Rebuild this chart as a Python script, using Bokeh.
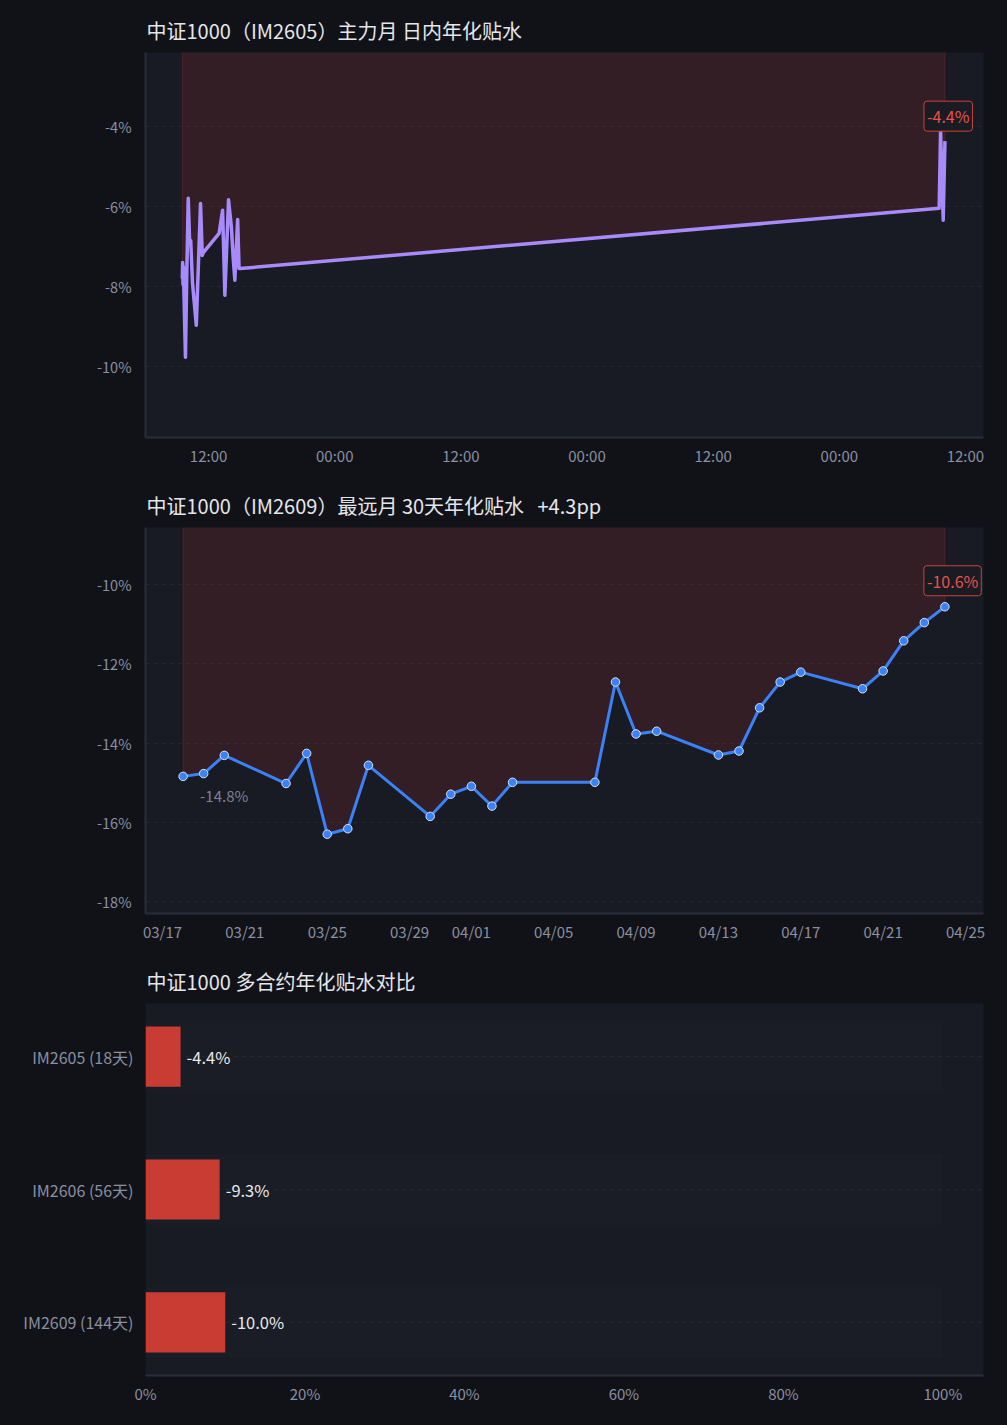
import pandas as pd
from bokeh.plotting import figure
from bokeh.layouts import column
from bokeh.models import (Range1d, FixedTicker, PrintfTickFormatter,
                          DatetimeTickFormatter, Label, ColumnDataSource)
from bokeh.core.properties import value
from bokeh.embed import file_html
from bokeh.resources import INLINE

# ---------------- data ----------------
# Chart 1: IM2605 intraday annualised discount (%)
intraday_time = [
    "2026-04-24 09:30", "2026-04-24 09:32", "2026-04-24 09:34", "2026-04-24 09:36",
    "2026-04-24 09:48", "2026-04-24 09:56", "2026-04-24 10:04", "2026-04-24 10:12",
    "2026-04-24 10:18", "2026-04-24 10:28", "2026-04-24 10:50", "2026-04-24 11:14",
    "2026-04-24 11:24", "2026-04-24 11:30", "2026-04-24 13:00", "2026-04-24 13:20",
    "2026-04-24 13:33", "2026-04-24 13:54", "2026-04-24 14:04", "2026-04-24 14:10",
    "2026-04-24 14:20", "2026-04-24 14:30", "2026-04-24 14:46", "2026-04-24 14:54",
    "2026-04-24 15:00",
    "2026-04-27 09:30", "2026-04-27 09:38", "2026-04-27 09:53", "2026-04-27 10:03",
]
intraday_value = [
    -7.80, -7.40, -7.95, -7.50,
    -9.77, -7.60, -5.79, -6.90,
    -6.85, -7.90, -8.97, -5.92,
    -7.22, -7.15, -6.67, -6.09,
    -8.22, -5.83, -6.25, -6.50,
    -7.26, -7.84, -6.32, -7.55,
    -7.55,
    -6.04, -4.12, -6.34, -4.36,
]
intraday_ticks = [
    "2026-04-24 12:00", "2026-04-25 00:00", "2026-04-25 12:00", "2026-04-26 00:00",
    "2026-04-26 12:00", "2026-04-27 00:00", "2026-04-27 12:00",
]

# Chart 2: IM2609 30-day annualised discount (%)
daily_date = [
    "2026-03-18", "2026-03-19", "2026-03-20", "2026-03-23", "2026-03-24",
    "2026-03-25", "2026-03-26", "2026-03-27", "2026-03-30", "2026-03-31",
    "2026-04-01", "2026-04-02", "2026-04-03", "2026-04-07", "2026-04-08",
    "2026-04-09", "2026-04-10", "2026-04-13", "2026-04-14", "2026-04-15",
    "2026-04-16", "2026-04-17", "2026-04-20", "2026-04-21", "2026-04-22",
    "2026-04-23", "2026-04-24",
]
daily_value = [
    -14.84, -14.77, -14.31, -15.02, -14.26,
    -16.30, -16.16, -14.56, -15.85, -15.29,
    -15.09, -15.59, -14.99, -14.99, -12.46,
    -13.77, -13.70, -14.30, -14.20, -13.11,
    -12.46, -12.21, -12.63, -12.18, -11.42,
    -10.96, -10.56,
]
daily_ticks = [
    "2026-03-17", "2026-03-21", "2026-03-25", "2026-03-29", "2026-04-01",
    "2026-04-05", "2026-04-09", "2026-04-13", "2026-04-17", "2026-04-21",
    "2026-04-25",
]

# Chart 3: contracts comparison
contracts = ["IM2605 (18天)", "IM2606 (56天)", "IM2609 (144天)"]
contract_discount = [-4.4, -9.3, -10.0]

# ---------------- style ----------------
PAGE_BG = "#111217"
PLOT_BG = "#181a24"
FONT = "Noto Sans CJK SC"
TICK_COLOR = "#8a8fa2"
AXIS_COLOR = "#2b2e3a"
RED = "#e5534b"
W = 991
NBSP = "\u00a0"


def ms(s):
    return pd.Timestamp(s).value / 1e6


def base_fig(title, height, bottom, x_axis_type="linear"):
    p = figure(width=W, height=height, title=title, x_axis_type=x_axis_type,
               toolbar_location=None, output_backend="svg",
               min_border_left=137, min_border_right=16,
               min_border_top=40, min_border_bottom=bottom)
    p.background_fill_color = PLOT_BG
    p.border_fill_color = PAGE_BG
    p.outline_line_color = None
    p.title.text_font = FONT
    p.title.text_font_size = "20px"
    p.title.text_font_style = "normal"
    p.title.text_color = "#e4e6eb"
    p.title.offset = 1
    p.title.standoff = 16
    for ax in p.axis:
        ax.axis_line_color = AXIS_COLOR
        ax.axis_line_width = 2
        ax.major_tick_line_color = None
        ax.minor_tick_line_color = None
        ax.major_tick_out = 0
        ax.major_tick_in = 0
        ax.minor_tick_out = 0
        ax.minor_tick_in = 0
        ax.major_label_text_font = FONT
        ax.major_label_text_color = TICK_COLOR
    p.xaxis.major_label_text_font_size = "15px"
    p.yaxis.major_label_text_font_size = "14.5px"
    p.xaxis.major_label_standoff = 7
    p.yaxis.major_label_standoff = 14
    p.xgrid.grid_line_color = None
    p.ygrid.grid_line_color = "#ffffff"
    p.ygrid.grid_line_alpha = 0.05
    p.ygrid.grid_line_dash = "4 4"
    return p


def last_label(x, y, yoff):
    return Label(x=x, y=y, text=f"{y:.1f}%", text_font=FONT, text_font_size="16px",
                 text_color=RED, text_align="left", text_baseline="middle",
                 x_offset=-21, y_offset=yoff, padding=3, border_radius=3,
                 background_fill_color="#1a1b23", border_line_color="#c8443c",
                 border_line_width=1)


def area_edges(p, xs, ys, top):
    # faint vertical edges at both ends of the shaded band
    p.segment(x0=[xs[0], xs[-1]], y0=[ys[0], ys[-1]], x1=[xs[0], xs[-1]], y1=[top, top],
              line_color="#dc3c3c", line_alpha=0.22, line_width=1)


# ---------------- chart 1 ----------------
t1 = [pd.Timestamp(s) for s in intraday_time]
src1 = ColumnDataSource(dict(x=t1, y=intraday_value, top=[0.0] * len(t1)))
p1 = base_fig("中证1000（IM2605）主力月 日内年化贴水", 475, 43, "datetime")
p1.x_range = Range1d(ms("2026-04-24 06:00"), ms("2026-04-27 13:43"))
p1.y_range = Range1d(-11.78, -2.14)
p1.varea(x="x", y1="y", y2="top", source=src1, fill_color="#dc3c3c", fill_alpha=0.14)
area_edges(p1, t1, intraday_value, 0.0)
p1.line(x="x", y="y", source=src1, line_color="#a78bfa", line_width=3.5,
        line_join="round")
p1.xaxis.ticker = FixedTicker(ticks=[ms(s) for s in intraday_ticks])
p1.xaxis.formatter = DatetimeTickFormatter(hours="%H:%M", hourmin="%H:%M", days="%H:%M",
                                           months="%H:%M", minutes="%H:%M", context=None)
p1.yaxis.ticker = FixedTicker(ticks=[-10, -8, -6, -4])
p1.yaxis.formatter = PrintfTickFormatter(format="%d%%")
p1.add_layout(last_label(ms(intraday_time[-1]), intraday_value[-1], 25))

# ---------------- chart 2 ----------------
t2 = [pd.Timestamp(s) for s in daily_date]
change = daily_value[-1] - daily_value[0]
src2 = ColumnDataSource(dict(x=t2, y=daily_value, top=[0.0] * len(t2)))
p2 = base_fig(f"中证1000（IM2609）最远月 30天年化贴水{NBSP * 3}{change:+.1f}pp",
              476, 43, "datetime")
p2.x_range = Range1d(ms("2026-03-16 04:10"), ms("2026-04-25 21:00"))
p2.y_range = Range1d(-18.3, -8.56)
p2.varea(x="x", y1="y", y2="top", source=src2, fill_color="#dc3c3c", fill_alpha=0.14)
area_edges(p2, t2, daily_value, 0.0)
p2.line(x="x", y="y", source=src2, line_color="#3b82f6", line_width=3,
        line_join="round")
p2.scatter(x="x", y="y", source=src2, size=8.5, fill_color="#3b82f6",
           line_color="#d6e2f5", line_width=1)
p2.xaxis.ticker = FixedTicker(ticks=[ms(s) for s in daily_ticks])
p2.xaxis.formatter = DatetimeTickFormatter(days="%m/%d", months="%m/%d", hours="%m/%d",
                                           hourmin="%m/%d", context=None)
p2.yaxis.ticker = FixedTicker(ticks=[-18, -16, -14, -12, -10])
p2.yaxis.formatter = PrintfTickFormatter(format="%d%%")
p2.add_layout(last_label(ms(daily_date[-1]), daily_value[-1], 26))
p2.add_layout(Label(x=ms(daily_date[0]), y=daily_value[0],
                    text=f"{daily_value[0]:.1f}%", text_font=FONT, text_font_size="15px",
                    text_color="#7d8294", text_align="left", text_baseline="middle",
                    x_offset=17, y_offset=-19))

# ---------------- chart 3 ----------------
ypos = list(range(len(contracts)))
mag = [abs(v) for v in contract_discount]
src3 = ColumnDataSource(dict(y=ypos, v=mag, full=[100] * len(ypos),
                             lbl=[f"{v:.1f}%" for v in contract_discount]))
p3 = base_fig("中证1000 多合约年化贴水对比", 465, 46)
p3.x_range = Range1d(0, 105.1)
p3.y_range = Range1d(len(contracts) - 0.6, -0.4)
p3.hbar(y="y", left=0, right="full", height=0.54, source=src3,
        fill_color="#ffffff", fill_alpha=0.013, line_color=None)
p3.hbar(y="y", left=0, right="v", height=0.453, source=src3,
        fill_color="#c83c34", line_color=None)
p3.text(x="v", y="y", text="lbl", source=src3, x_offset=6,
        text_font=value(FONT), text_font_size="16.5px", text_color="#e8e8ea",
        text_baseline="middle", text_align="left")
p3.xaxis.ticker = FixedTicker(ticks=[0, 20, 40, 60, 80, 100])
p3.xaxis.formatter = PrintfTickFormatter(format="%d%%")
p3.yaxis.ticker = FixedTicker(ticks=ypos)
p3.yaxis.major_label_overrides = {i: c for i, c in zip(ypos, contracts)}
p3.yaxis.axis_line_color = None
p3.yaxis.major_label_text_font_size = "16px"
p3.yaxis.major_label_standoff = 12

layout = column(p1, p2, p3, spacing=0)
layout.styles = {"background-color": PAGE_BG}

html = file_html(layout, INLINE, title="中证1000 年化贴水")
css = (f"<style>html{{background:{PAGE_BG} !important;}}"
       f"body{{margin:5px 8px 8px 8px !important;background:{PAGE_BG} !important;}}</style>")
idx = html.rfind("</head>")
html = html[:idx] + css + html[idx:]
open("out.html", "w").write(html)
